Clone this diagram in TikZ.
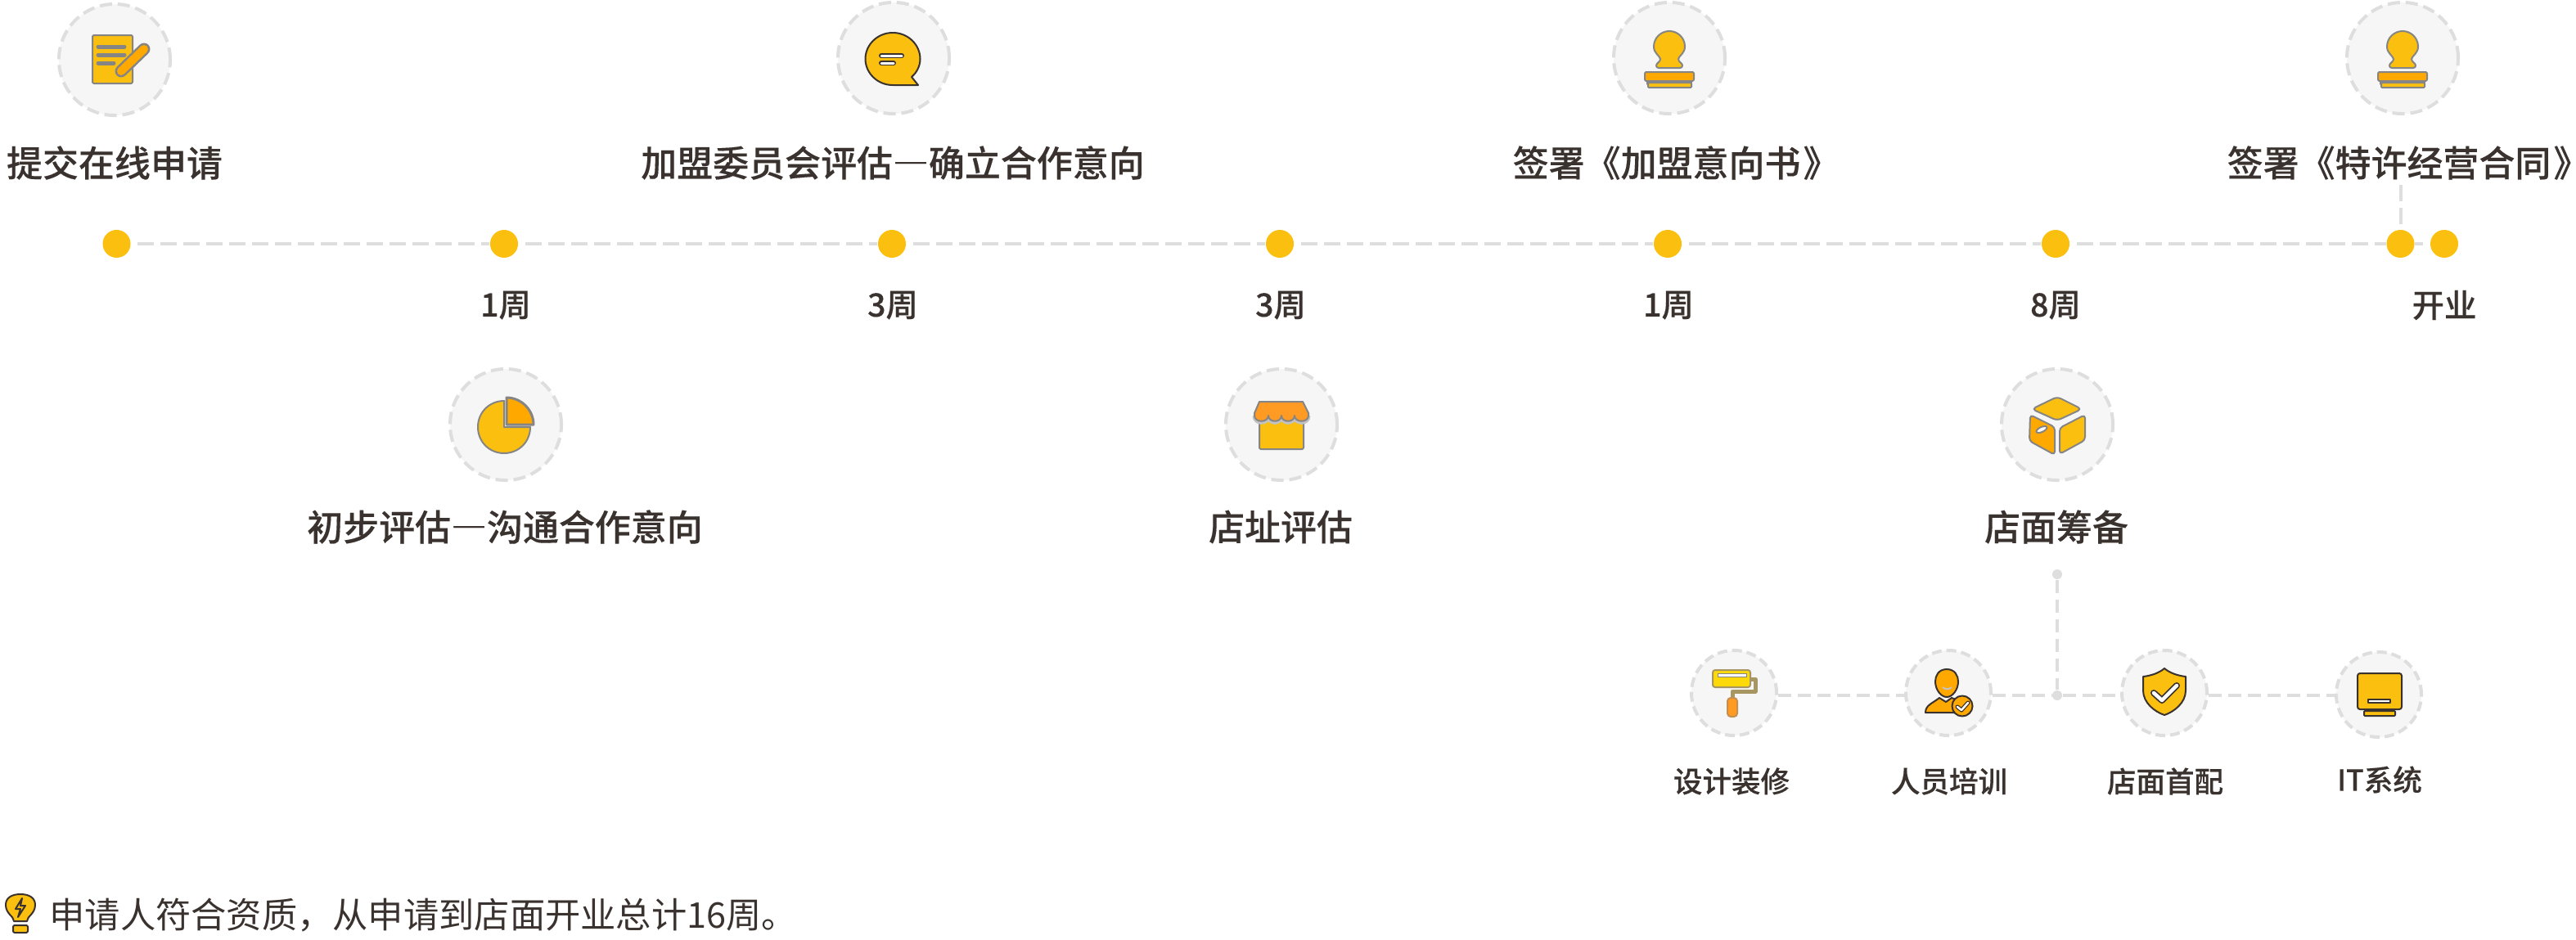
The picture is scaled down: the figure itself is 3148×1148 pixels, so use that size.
\documentclass[tikz,border=0pt]{standalone}
\usepackage{fontspec}
\setmainfont{Noto Sans CJK SC}
\newfontfamily\cjkmed[FakeBold=0.25]{Noto Sans CJK SC Medium}
\newcommand{\longdash}{{\addfontfeature{RawFeature=+fwid}—}}
\newcommand{\closequote}{\kern.04cm{\addfontfeature{RawFeature=+palt}》}}
\definecolor{ringgray}{HTML}{DEDEDE}
\definecolor{bggray}{HTML}{F6F6F6}
\definecolor{inkdark}{HTML}{3A322F}
\definecolor{goldy}{HTML}{FBBF0F}
\definecolor{orangey}{HTML}{FFA800}
\definecolor{redorange}{HTML}{FF9A22}
\definecolor{softgray}{HTML}{858585}
\tikzset{
    x=0.01cm,y=-0.01cm,
    ln/.style={line width=#1*0.01cm},
    iconbg/.style={circle,fill=bggray,draw=ringgray,ln=4,dash pattern=on .15cm off .07cm,minimum size=1.36cm,inner sep=0pt},
    subbg/.style={circle,fill=bggray,draw=ringgray,ln=4,dash pattern=on .12cm off .06cm,minimum size=1.04cm,inner sep=0pt},
    maindot/.style={circle,fill=goldy,minimum size=.34cm,inner sep=0pt},
    tinydot/.style={circle,fill=ringgray,minimum size=.12cm,inner sep=0pt},
    mainline/.style={draw=ringgray,ln=4,dash pattern=on .2cm off .08cm,dash phase=.2cm},
    subline/.style={draw=ringgray,ln=3.5,dash pattern=on .16cm off .08cm},
    biglabel/.style={text=inkdark,font=\cjkmed\fontsize{12.5}{15}\selectfont,inner sep=0pt},
    weeklabel/.style={text=inkdark,font=\cjkmed\fontsize{11.2}{14}\selectfont,inner sep=0pt},
    sublabel/.style={text=inkdark,font=\cjkmed\fontsize{10.1}{13}\selectfont,inner sep=0pt},
    softline/.style={draw=softgray,ln=2,line join=round},
    darkline/.style={draw=inkdark,ln=2,line join=round},
    noteicon/.pic={
        \path[softline,fill=goldy,rounded corners=.02cm] (-27,-30) rectangle (22,29);
        \foreach \yy/\xx in {-16/12,-6/12,4/-1}
            \draw[softgray,ln=5,line cap=round] (-20,\yy) -- (\xx,\yy);
        \draw[softgray,ln=15,line cap=round] (36,-13) -- (8,14);
        \draw[orangey,ln=10,line cap=round] (36,-13) -- (8,14);
    },
    bubbleicon/.pic={
        \path[darkline,fill=goldy] (30,33) -- (-1,33) .. controls (-20,33) and (-34.5,18) .. (-34.5,1)
            .. controls (-34.5,-16) and (-20,-31) .. (-1,-31) .. controls (18,-31) and (32.5,-16) .. (32.5,1)
            .. controls (32.5,10) and (28,18) .. (22,23) -- cycle;
        \foreach \yy/\xx in {-3/10,6/0} {
            \draw[inkdark,ln=6,line cap=round] (-15,\yy) -- (\xx,\yy);
            \draw[white,ln=3,line cap=round] (-15,\yy) -- (\xx,\yy);
        }
    },
    stampicon/.pic={
        \path[softline,fill=goldy] (0,-33) .. controls (10,-33) and (19,-25) .. (19,-14)
            .. controls (19,-6) and (12,-3) .. (11,1) .. controls (11,5) and (16,6) .. (16,9)
            .. controls (16,11) and (15,12) .. (13,12) -- (-13,12) .. controls (-15,12) and (-16,11) .. (-16,9)
            .. controls (-16,6) and (-11,5) .. (-11,1) .. controls (-12,-3) and (-19,-6) .. (-19,-14)
            .. controls (-19,-25) and (-10,-33) .. (0,-33) -- cycle;
        \path[softline,fill=softgray] (-27,27) rectangle (27,32);
        \path[softline,fill=orangey,rounded corners=.02cm] (-30,17) rectangle (30,28);
        \path[softline,fill=goldy,rounded corners=.01cm] (-26,30) rectangle (27,36);
    },
    pieicon/.pic={
        \path[softline,fill=goldy] (-2,3) -- (-2,-29) .. controls (-20,-29) and (-34,-15) .. (-34,3)
            .. controls (-34,21) and (-20,35) .. (-2,35) .. controls (16,35) and (30,21) .. (30,3) -- cycle;
        \path[softline,ln=3,fill=orangey] (1,0) -- (1,-33) .. controls (19,-33) and (34,-18) .. (34,0) -- cycle;
    },
    shopicon/.pic={
        \path[softline,fill=goldy,rounded corners=.02cm] (-27,-6) rectangle (27,30);
        \path[draw=softgray!50,ln=5,fill=none] (33,-11) .. controls (33,0) and (16,0) .. (16,-11)
            .. controls (16,0) and (0,0) .. (0,-11) .. controls (0,0) and (-16,0) .. (-16,-11)
            .. controls (-16,0) and (-33,0) .. (-33,-11);
        \path[softline,fill=redorange] (-27,-28) -- (26,-28) -- (33,-14) -- (33,-11) .. controls (33,-2) and (16,-2) .. (16,-11)
            .. controls (16,-2) and (0,-2) .. (0,-11) .. controls (0,-2) and (-16,-2) .. (-16,-11)
            .. controls (-16,-2) and (-33,-2) .. (-33,-11) -- (-33,-14) -- cycle;
    },
    boxicon/.pic={
        \path[softline,fill=goldy,rounded corners=.05cm] (-31,-19) -- (0,-34) -- (30,-19) -- (0,-5) -- cycle;
        \path[softline,fill=orangey,rounded corners=.04cm] (-33,-12) -- (-3,3) -- (-3,37) -- (-34,20) -- cycle;
        \path[softline,fill=goldy,rounded corners=.04cm] (3,4) -- (34,-12) -- (34,19) -- (3,36) -- cycle;
        \path[softline,fill=white,rotate around={25:(-19,6)}] (-19,6) ellipse[x radius=7,y radius=3];
    },
    rollericon/.pic={
        \draw[softgray!70!goldy,ln=5,line join=round] (20,-17) -- (26,-17) -- (26,-2) -- (-2,-2) -- (-2,8);
        \path[draw=softgray!70!goldy,ln=2,fill=goldy!60!yellow,rounded corners=.03cm] (-26,-28) rectangle (20,-7);
        \path[draw=softgray,ln=1,fill=white] (-20,-24) rectangle (15,-20);
        \path[softline,draw=softgray!50!redorange,fill=redorange,rounded corners=.04cm] (-8,6) rectangle (4,29);
    },
    personicon/.pic={
        \path[darkline,fill=orangey] (-28,24) .. controls (-28,15) and (-20,13) .. (-11,6) -- (-3,11) -- (4,6) -- (14,10) -- (20,24) -- cycle;
        \path[darkline,fill=orangey] (-2,-29) .. controls (8,-29) and (12,-21) .. (12,-14) .. controls (12,-4) and (5,5) .. (-2,5)
            .. controls (-9,5) and (-16,-4) .. (-16,-14) .. controls (-16,-21) and (-12,-29) .. (-2,-29) -- cycle;
        \draw[white!70!inkdark,ln=2] (-7,-7) .. controls (-4,-4) and (1,-4) .. (4,-7);
        \path[darkline,fill=orangey] (17,16) circle[radius=12.5];
        \draw[inkdark,ln=5,line cap=round,line join=round] (11,17) -- (16,21) -- (24,12);
        \draw[white,ln=2.5,line cap=round,line join=round] (11,17) -- (16,21) -- (24,12);
    },
    shieldicon/.pic={
        \path[darkline,fill=goldy] (0,-30) .. controls (-7,-24) and (-17,-21) .. (-26,-20) -- (-26,-3)
            .. controls (-26,12) and (-12,23) .. (0,27) .. controls (12,23) and (26,12) .. (26,-3) -- (26,-20)
            .. controls (17,-21) and (7,-24) .. (0,-30) -- cycle;
        \draw[inkdark,ln=8,line cap=round,line join=round] (-13,0) -- (-3,9) -- (15,-9);
        \draw[white,ln=4.5,line cap=round,line join=round] (-13,0) -- (-3,9) -- (15,-9);
    },
    screenicon/.pic={
        \path[darkline,fill=goldy,rounded corners=.03cm] (-26,-26) rectangle (28,18);
        \path[darkline,fill=white] (-13,6) rectangle (14,10);
        \path[darkline,fill=goldy,rounded corners=.01cm] (-18,20) rectangle (20,26);
    },
    bulbicon/.pic={
        \path[darkline,fill=goldy] (-8,17) .. controls (-8,11) and (-18,8) .. (-18,-3) .. controls (-18,-12) and (-10,-16) .. (0,-16)
            .. controls (10,-16) and (18,-12) .. (18,-3) .. controls (18,8) and (8,11) .. (8,17) -- cycle;
        \path[darkline,fill=goldy,rounded corners=.02cm] (-9,22) rectangle (9,31);
        \path[darkline,fill=goldy] (2,-11) -- (-6,2) -- (0,2) -- (-3,12) -- (6,-2) -- (0,-2) -- cycle;
    },
}
\begin{document}
\begin{tikzpicture}
        \useasboundingbox (0,0) rectangle (3148,1148);
        % dots of the horizontal line
    \foreach \n/\x in {0/142.5,1/616,2/1090,3/1564,4/2038,5/2512,6/2933.5,7/2987}
    \node[maindot] (d\n) at (\x,298) {};
    \foreach \a/\b in {0/1,1/2,2/3,3/4,4/5,5/6}
    \draw[mainline] (d\a) -- (d\b);
    \draw[mainline,dash phase=0cm,shorten >=.08cm] (d6) -- (d7);
    \coordinate (signtop) at (2933.5,226);
    \draw[mainline,dash phase=0cm] (signtop) -- (d6);
        % week labels
    \foreach \n/\x/\t in {1/618/1周,2/1091/3周,3/1565/3周,4/2039/1周,5/2512/8周,7/2987/开业}
    \node[weeklabel] (w\n) at (\x,373) {\t};
        % top row
    \node[iconbg] (apply) at (140,73) {};
    \node[iconbg] (board) at (1092,71) {};
    \node[iconbg] (intent) at (2040,71) {};
    \node[iconbg] (contract) at (2936,71) {};
    \pic at (apply) {noteicon};
    \pic at (board) {bubbleicon};
    \pic at (intent) {stampicon};
    \pic at (contract) {stampicon};
    \node[biglabel] (applytext) at (140,199) {提交在线申请};
    \node[biglabel] (boardtext) at (1091,199) {加盟委员会评估\longdash 确立合作意向};
    \node[biglabel,anchor=west] (intenttext) at (1848,199) {签署《加盟意向书\closequote};
    \node[biglabel,anchor=west] (contracttext) at (2721,199) {签署《特许经营合同\closequote};
        % second row
    \node[iconbg] (first) at (618,519) {};
    \node[iconbg] (site) at (1566,519) {};
    \node[iconbg] (prep) at (2514,519) {};
    \pic at (first) {pieicon};
    \pic at (site) {shopicon};
    \pic at (prep) {boxicon};
    \node[biglabel] (firsttext) at (617,644) {初步评估\longdash 沟通合作意向};
    \node[biglabel] (sitetext) at (1565,644) {店址评估};
    \node[biglabel] (preptext) at (2513,644) {店面筹备};
        % branch under the store preparation
    \node[tinydot] (topdot) at (2514,702) {};
    \node[tinydot] (joint) at (2514,850) {};
    \node[subbg] (design) at (2119,847) {};
    \node[subbg] (staff) at (2381,847) {};
    \node[subbg] (stock) at (2645,847) {};
    \node[subbg] (itsys) at (2907,849) {};
    \draw[subline] (topdot) -- (joint);
    \draw[subline] (design.east |- joint) -- (staff.west |- joint);
    \draw[subline] (staff.east |- joint) -- (joint);
    \draw[subline] (joint) -- (stock.west |- joint);
    \draw[subline] (stock.east |- joint) -- (itsys.west |- joint);
    \pic at (design) {rollericon};
    \pic at (staff) {personicon};
    \pic at (stock) {shieldicon};
    \pic at (itsys) {screenicon};
    \node[sublabel] (designtext) at (2116,955) {设计装修};
    \node[sublabel] (stafftext) at (2382,955) {人员培训};
    \node[sublabel] (stocktext) at (2646,955) {店面首配};
    \node[sublabel] (itsystext) at (2908,953) {IT系统};
        % note at the bottom
    \coordinate (bulb) at (25,1109);
    \pic at (bulb) {bulbicon};
    \node[text=inkdark,font=\fontsize{12.3}{15}\selectfont,inner sep=0pt,anchor=west] (notetext) at (60,1119) {申请人符合资质，从申请到店面开业总计16周。};
\end{tikzpicture}
\end{document}
